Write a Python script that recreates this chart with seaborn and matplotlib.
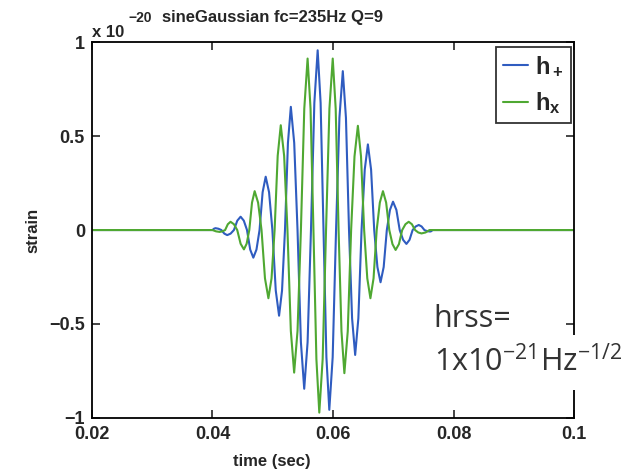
import numpy as np
import matplotlib
matplotlib.use("Agg")
import matplotlib.pyplot as plt
import seaborn as sns

sns.set_style("ticks")
plt.rcParams['font.family'] = ['Liberation Sans', 'DejaVu Sans']
plt.rcParams['mathtext.fontset'] = 'custom'
plt.rcParams['mathtext.rm'] = 'Open Sans'
plt.rcParams['mathtext.bf'] = 'Liberation Sans:bold'

# waveform values (time in ms, strain in units of 1e-20)
t_plus = [20.0, 40.00,
          40.25, 40.50, 40.99, 41.48, 41.97, 42.45, 43.01, 43.56,
          44.12, 44.67, 45.20, 45.73, 46.26, 46.78, 47.30, 47.81,
          48.32, 48.83, 49.39, 49.94, 50.50, 51.05, 51.54, 52.03,
          52.52, 53.00, 53.56, 54.11, 54.67, 55.22, 55.78, 56.34,
          56.90, 57.45, 57.94, 58.42, 58.90, 59.38, 59.94, 60.50,
          61.06, 61.62, 62.14, 62.65, 63.16, 63.67, 64.20, 64.73,
          65.26, 65.78, 66.31, 66.83, 67.36, 67.88, 68.40, 68.92,
          69.44, 69.95, 70.51, 71.06, 71.62, 72.17, 72.69, 73.20,
          73.71, 74.22, 74.69, 75.16, 75.63, 76.10, 76.30, 76.50,
          100.0]
h_plus = [0, 0,
          0.007, 0.010, 0.007, 0, -0.019, -0.027, -0.019, 0,
          0.050, 0.071, 0.050, 0, -0.104, -0.147, -0.104, 0,
          0.201, 0.284, 0.201, 0, -0.322, -0.456, -0.322, 0,
          0.464, 0.656, 0.464, 0, -0.597, -0.845, -0.597, 0,
          0.677, 0.957, 0.677, 0, -0.677, -0.957, -0.677, 0,
          0.598, 0.846, 0.598, 0, -0.470, -0.665, -0.470, 0,
          0.322, 0.456, 0.322, 0, -0.197, -0.278, -0.197, 0,
          0.107, 0.151, 0.107, 0, -0.052, -0.074, -0.052, 0,
          0.019, 0.027, 0.019, 0, -0.006, -0.008, -0.006, 0,
          0]

t_cross = [20.0, 40.00,
           40.60, 41.20, 41.65, 42.10, 42.55, 43.00, 43.56, 44.11,
           44.67, 45.22, 45.67, 46.11, 46.56, 47.00, 47.57, 48.14,
           48.71, 49.28, 49.80, 50.31, 50.82, 51.33, 51.89, 52.44,
           53.00, 53.55, 54.11, 54.67, 55.23, 55.78, 56.27, 56.75,
           57.24, 57.72, 58.28, 58.84, 59.40, 59.95, 60.44, 60.92,
           61.40, 61.88, 62.44, 63.00, 63.56, 64.12, 64.64, 65.16,
           65.68, 66.20, 66.72, 67.24, 67.76, 68.28, 68.81, 69.33,
           69.86, 70.38, 70.93, 71.47, 72.01, 72.55, 73.08, 73.61,
           74.14, 74.67, 75.34, 76.00,
           100.0]
h_cross = [0, 0,
           -0.007, -0.010, -0.007, 0, 0.031, 0.044, 0.031, 0,
           -0.073, -0.103, -0.073, 0, 0.146, 0.207, 0.146, 0,
           -0.257, -0.363, -0.257, 0, 0.395, 0.558, 0.395, 0,
           -0.537, -0.759, -0.537, 0, 0.646, 0.913, 0.646, 0,
           -0.687, -0.972, -0.687, 0, 0.646, 0.913, 0.646, 0,
           -0.539, -0.762, -0.539, 0, 0.392, 0.555, 0.392, 0,
           -0.257, -0.363, -0.257, 0, 0.146, 0.207, 0.146, 0,
           -0.075, -0.106, -0.075, 0, 0.031, 0.044, 0.031, 0,
           -0.013, -0.018, -0.013, 0,
           0]

xticks = [0.02, 0.04, 0.06, 0.08, 0.1]
xticklabels = ['0.02', '0.04', '0.06', '0.08', '0.1']
yticks = [-1, -0.5, 0, 0.5, 1]
yticklabels = ['\u22121', '\u22120.5', '0', '0.5', '1']

fig = plt.figure(figsize=(6.38, 4.69), dpi=100)
ax = fig.add_axes([0.144, 0.109, 0.756, 0.801])

sns.lineplot(x=np.array(t_plus) / 1000, y=h_plus, ax=ax, color='#2f5cc0',
             lw=1.5, label=r'$\mathbf{h_+}$', sort=False)
sns.lineplot(x=np.array(t_cross) / 1000, y=h_cross, ax=ax, color='#4fa832',
             lw=1.5, label=r'$\mathbf{h_x}$', sort=False)

ax.set_xlim(0.02, 0.1)
ax.set_ylim(-1, 1)
ax.set_xticks(xticks)
ax.set_xticklabels(xticklabels, fontweight='bold', fontsize=13)
ax.set_yticks(yticks)
ax.set_yticklabels(yticklabels, fontweight='bold', fontsize=13)
ax.tick_params(direction='in', length=6, width=1.2, top=True, right=True,
               pad=5)
ax.tick_params(axis='x', pad=6)
for s in ax.spines.values():
    s.set_linewidth(1.3)
    s.set_color('black')

ax.set_xlabel('time (sec)', fontweight='bold', fontsize=12, labelpad=3)
ax.xaxis.set_label_coords(0.374, -0.095)
ax.set_ylabel('strain', fontweight='bold', fontsize=12, labelpad=6)

ax.text(0.374, 1.045, 'sineGaussian fc=235Hz Q=9', transform=ax.transAxes,
        ha='center', va='bottom', fontweight='bold', fontsize=12)
ax.text(0.0, 1.005, 'x 10', transform=ax.transAxes, ha='left',
        va='bottom', fontweight='bold', fontsize=12)
ax.text(0.075, 1.045, '\u221220', transform=ax.transAxes, ha='left',
        va='bottom', fontweight='bold', fontsize=10)

leg = ax.legend(loc='upper right', fontsize=17, handlelength=1.05,
                frameon=True, fancybox=False, borderpad=0.3,
                labelspacing=0.5, handletextpad=0.3, borderaxespad=0,
                bbox_to_anchor=(0.993, 0.987))
leg.get_frame().set_edgecolor('black')
leg.get_frame().set_linewidth(1.3)

# hrss annotation, white boxes hide the right spine behind it
ax.text(0.0767, -0.516, 'hrss=', family='Open Sans', fontsize=22,
        color='#333333', ha='left', va='baseline', clip_on=False, zorder=10,
        bbox=dict(facecolor='white', edgecolor='none', pad=8))
ax.text(0.0767, -0.755, '1x10$^{-21}$Hz$^{-1/2}$', family='Open Sans',
        fontsize=22, color='#333333', ha='left', va='baseline',
        clip_on=False, zorder=11,
        bbox=dict(facecolor='white', edgecolor='none', pad=8))

plt.savefig('out.png', dpi=100)
